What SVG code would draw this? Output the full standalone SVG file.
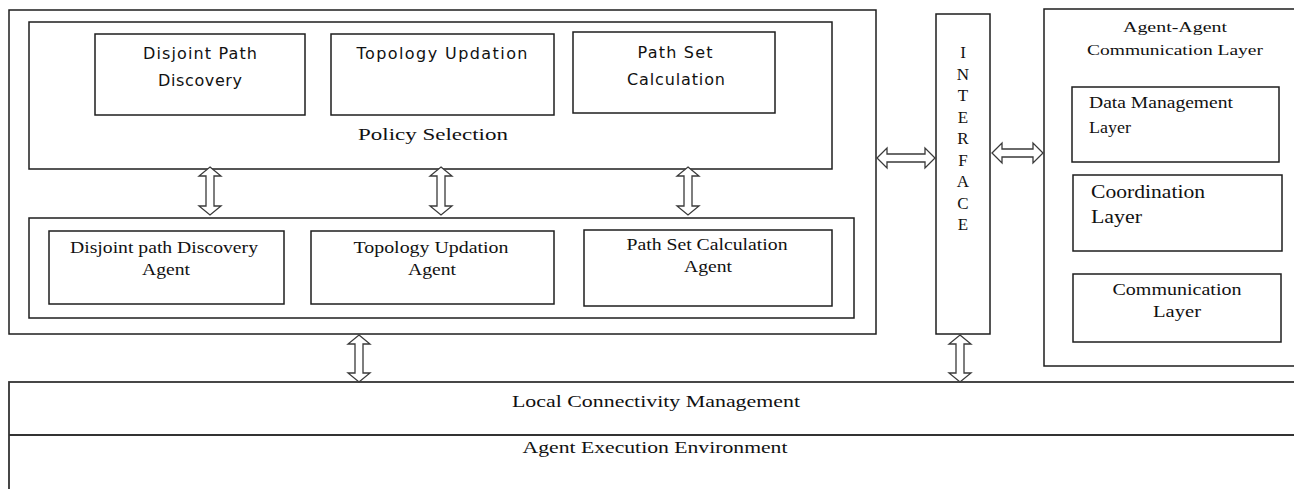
<svg xmlns="http://www.w3.org/2000/svg" width="1294" height="489" viewBox="0 0 1294 489">
<style>
.box{fill:#fff;stroke:#1e1e1e;stroke-width:1.5}
.frame{fill:none;stroke:#1e1e1e;stroke-width:1.5}
.arrow{fill:#fff;stroke:#3a3a3a;stroke-width:1.3;stroke-linejoin:miter}
.sans{font-family:"DejaVu Sans","Verdana",sans-serif;font-size:16px;fill:#111;text-anchor:middle}
.serif{font-family:"Liberation Serif","Times New Roman",serif;fill:#111}
.c{text-anchor:middle}
</style>
<rect width="1294" height="489" fill="#fff"/>

<g id="lcm">
<rect class="frame" x="9" y="382" width="1300" height="120" style="stroke:#333;stroke-width:1.8"/>
<line x1="9" y1="435" x2="1294" y2="435" style="stroke:#333;stroke-width:2"/>
<text class="serif c" x="656" y="407" font-size="17" textLength="288" lengthAdjust="spacingAndGlyphs">Local Connectivity Management</text>
<text class="serif c" x="655" y="453" font-size="17" textLength="265" lengthAdjust="spacingAndGlyphs">Agent Execution Environment</text>
</g>

<g id="left-frame">
<rect class="frame" x="9" y="10" width="867" height="324"/>
</g>

<g id="policy-selection">
<rect class="box" x="29" y="22" width="803" height="147"/>
<text class="serif c" x="433" y="140" font-size="17" textLength="150" lengthAdjust="spacingAndGlyphs">Policy Selection</text>
</g>

<g id="disjoint-path-discovery">
<rect class="box" x="95" y="34" width="210" height="81"/>
<text class="sans" x="200" y="59" textLength="114" lengthAdjust="spacing">Disjoint Path</text>
<text class="sans" x="200" y="86" textLength="84" lengthAdjust="spacing">Discovery</text>
</g>

<g id="topology-updation">
<rect class="box" x="331" y="34" width="223" height="81"/>
<text class="sans" x="442" y="59" textLength="171" lengthAdjust="spacing">Topology Updation</text>
</g>

<g id="path-set-calculation">
<rect class="box" x="573" y="32" width="202" height="81"/>
<text class="sans" x="675" y="58" textLength="75" lengthAdjust="spacing">Path Set</text>
<text class="sans" x="676" y="85" textLength="98" lengthAdjust="spacing">Calculation</text>
</g>

<g id="agents">
<rect class="box" x="29" y="218" width="825" height="100"/>
</g>

<g id="disjoint-path-discovery-agent">
<rect class="box" x="49" y="231" width="235" height="73"/>
<text class="serif c" x="164" y="253" font-size="16" textLength="188" lengthAdjust="spacingAndGlyphs">Disjoint path Discovery</text>
<text class="serif c" x="166" y="275" font-size="16" textLength="48" lengthAdjust="spacingAndGlyphs">Agent</text>
</g>

<g id="topology-updation-agent">
<rect class="box" x="311" y="231" width="243" height="73"/>
<text class="serif c" x="431" y="253" font-size="16" textLength="155" lengthAdjust="spacingAndGlyphs">Topology Updation</text>
<text class="serif c" x="432" y="275" font-size="16" textLength="48" lengthAdjust="spacingAndGlyphs">Agent</text>
</g>

<g id="path-set-calculation-agent">
<rect class="box" x="584" y="230" width="248" height="76"/>
<text class="serif c" x="707" y="250" font-size="16" textLength="161" lengthAdjust="spacingAndGlyphs">Path Set Calculation</text>
<text class="serif c" x="708" y="272" font-size="16" textLength="48" lengthAdjust="spacingAndGlyphs">Agent</text>
</g>

<g id="interface">
<rect class="box" x="936" y="14" width="54" height="320"/>
<g class="serif c" font-size="17">
<text x="963" y="58">I</text>
<text x="963" y="79.5">N</text>
<text x="963" y="101">T</text>
<text x="963" y="122.5">E</text>
<text x="963" y="144">R</text>
<text x="963" y="165.5">F</text>
<text x="963" y="187">A</text>
<text x="963" y="208.5">C</text>
<text x="963" y="230">E</text>
</g>
</g>

<g id="agent-agent-communication-layer">
<rect class="frame" x="1044" y="9" width="262" height="357"/>
<text class="serif c" x="1175" y="32" font-size="15" textLength="104" lengthAdjust="spacingAndGlyphs">Agent-Agent</text>
<text class="serif c" x="1175" y="55" font-size="15" textLength="176" lengthAdjust="spacingAndGlyphs">Communication Layer</text>
</g>

<g id="data-management-layer">
<rect class="box" x="1072" y="87" width="207" height="75"/>
<text class="serif" x="1089" y="108" font-size="16" textLength="144" lengthAdjust="spacingAndGlyphs">Data Management</text>
<text class="serif" x="1089" y="133" font-size="16" textLength="42" lengthAdjust="spacingAndGlyphs">Layer</text>
</g>

<g id="coordination-layer">
<rect class="box" x="1073" y="175" width="209" height="76"/>
<text class="serif" x="1091" y="198" font-size="18" textLength="114" lengthAdjust="spacingAndGlyphs">Coordination</text>
<text class="serif" x="1091" y="223" font-size="18" textLength="51" lengthAdjust="spacingAndGlyphs">Layer</text>
</g>

<g id="communication-layer">
<rect class="box" x="1073" y="274" width="208" height="68"/>
<text class="serif c" x="1177" y="295" font-size="16" textLength="129" lengthAdjust="spacingAndGlyphs">Communication</text>
<text class="serif c" x="1177" y="317" font-size="16" textLength="48" lengthAdjust="spacingAndGlyphs">Layer</text>
</g>

<g id="connectors">
<path class="arrow" d="M210,167 L221,176 L214,176 L214,206 L221,206 L210,215 L199,206 L206,206 L206,176 L199,176 Z"/>
<path class="arrow" d="M441,167 L452,176 L445,176 L445,206 L452,206 L441,215 L430,206 L437,206 L437,176 L430,176 Z"/>
<path class="arrow" d="M688,167 L699,176 L692,176 L692,206 L699,206 L688,215 L677,206 L684,206 L684,176 L677,176 Z"/>
<path class="arrow" d="M359,335 L370,344 L363,344 L363,373 L370,373 L359,382 L348,373 L355,373 L355,344 L348,344 Z"/>
<path class="arrow" d="M960,335 L971,344 L964,344 L964,373 L971,373 L960,382 L949,373 L956,373 L956,344 L949,344 Z"/>
<path class="arrow" d="M877,158 L887,148 L887,154 L925,154 L925,148 L935,158 L925,168 L925,162 L887,162 L887,168 Z"/>
<path class="arrow" d="M992,153 L1002,143 L1002,149 L1033,149 L1033,143 L1043,153 L1033,163 L1033,157 L1002,157 L1002,163 Z"/>
</g>
</svg>
